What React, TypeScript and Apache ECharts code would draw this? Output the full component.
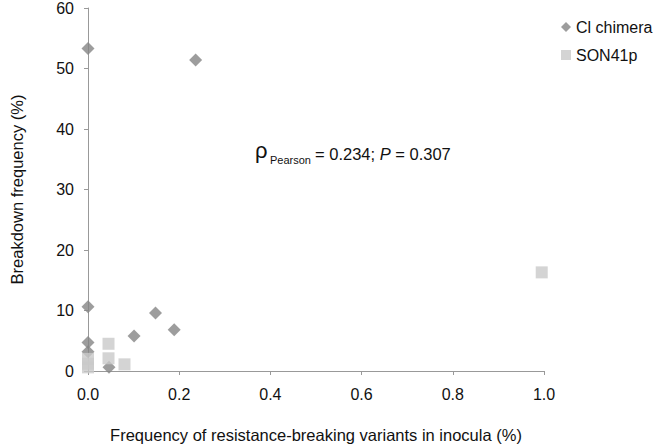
import React, { useEffect, useRef } from "react";
import * as echarts from "echarts";

const xTicks = [0, 0.2, 0.4, 0.6, 0.8, 1.0];
const yTicks = [0, 10, 20, 30, 40, 50, 60];

const clChimeraX = [0, 0.236, 0, 0.148, 0.189, 0.101, 0, 0, 0.046];
const clChimeraY = [53.3, 51.4, 10.6, 9.6, 6.8, 5.8, 4.7, 3.2, 0.6];

const son41pX = [0.995, 0.045, 0.045, 0.08, 0, 0, 0];
const son41pY = [16.3, 4.5, 2.1, 1.1, 2.0, 1.2, 0.6];

const seriesNames = ["Cl chimera", "SON41p"];
const FONT = "'Liberation Sans', Arial, Helvetica, sans-serif";

export default function App() {
  const ref = useRef<HTMLDivElement>(null);
  useEffect(() => {
    if (!ref.current) return;
    const chart = echarts.init(ref.current, null, { renderer: "svg" });
    const axisColor = "#999999";
    chart.setOption({
      animation: false,
      backgroundColor: "#ffffff",
      textStyle: { fontFamily: FONT },
      grid: { left: 79, right: 112, top: 7, bottom: 73, containLabel: false },
      xAxis: {
        type: "value",
        min: xTicks[0],
        max: xTicks[xTicks.length - 1],
        interval: 0.2,
        splitLine: { show: false },
        axisLine: { show: true, onZero: false, lineStyle: { color: axisColor, width: 1 } },
        axisTick: { show: true, length: 4, lineStyle: { color: axisColor } },
        axisLabel: {
          color: "#111",
          fontSize: 16,
          fontFamily: FONT,
          margin: 15,
          formatter: (v: number) => v.toFixed(1),
        },
        name: "Frequency of resistance-breaking variants in inocula (%)",
        nameLocation: "middle",
        nameGap: 55,
        nameTextStyle: { color: "#111", fontSize: 16.5, fontFamily: FONT },
      },
      yAxis: {
        type: "value",
        min: yTicks[0],
        max: yTicks[yTicks.length - 1],
        interval: 10,
        splitLine: { show: false },
        axisLine: { show: true, onZero: false, lineStyle: { color: axisColor, width: 1 } },
        axisTick: { show: true, length: 4, lineStyle: { color: axisColor } },
        axisLabel: { color: "#111", fontSize: 16, fontFamily: FONT, margin: 14 },
        name: "Breakdown frequency (%)",
        nameLocation: "middle",
        nameGap: 63,
        nameTextStyle: { color: "#111", fontSize: 16.5, fontFamily: FONT },
      },
      legend: {
        orient: "vertical",
        left: 556,
        top: 14,
        itemWidth: 10,
        itemHeight: 10,
        itemGap: 12,
        textStyle: { color: "#111", fontSize: 16, fontFamily: FONT },
        data: [
          { name: seriesNames[0], icon: "diamond" },
          { name: seriesNames[1], icon: "rect" },
        ],
      },
      graphic: [
        {
          type: "text",
          x: 255,
          y: 150,
          style: {
            text: "ρ",
            fontSize: 22,
            fontFamily: FONT,
            fill: "#111",
            verticalAlign: "middle",
            align: "left",
          },
        },
        {
          type: "text",
          x: 270,
          y: 160,
          style: {
            text: "Pearson",
            fontSize: 11,
            fontFamily: FONT,
            fill: "#111",
            verticalAlign: "middle",
            align: "left",
          },
        },
        {
          type: "text",
          x: 315,
          y: 154,
          style: {
            text: "{n|= 0.234; }{i|P}{n| = 0.307}",
            verticalAlign: "middle",
            align: "left",
            rich: {
              n: { fontSize: 16.5, fontFamily: FONT, fill: "#111" },
              i: { fontSize: 16.5, fontFamily: FONT, fill: "#111", fontStyle: "italic" },
            },
          },
        },
      ],
      series: [
        {
          name: seriesNames[0],
          type: "scatter",
          symbol: "diamond",
          symbolSize: 13,
          itemStyle: { color: "#858585" },
          data: clChimeraX.map((x, i) => [x, clChimeraY[i]]),
          z: 2,
        },
        {
          name: seriesNames[1],
          type: "scatter",
          symbol: "rect",
          symbolSize: 12,
          itemStyle: { color: "#c9c9c9" },
          data: son41pX.map((x, i) => [x, son41pY[i]]),
          z: 3,
        },
      ],
    });
    return () => chart.dispose();
  }, []);
  return (
    <div
      ref={ref}
      style={{ position: "fixed", left: 0, top: 0, width: 656, height: 448, background: "#fff" }}
    />
  );
}
